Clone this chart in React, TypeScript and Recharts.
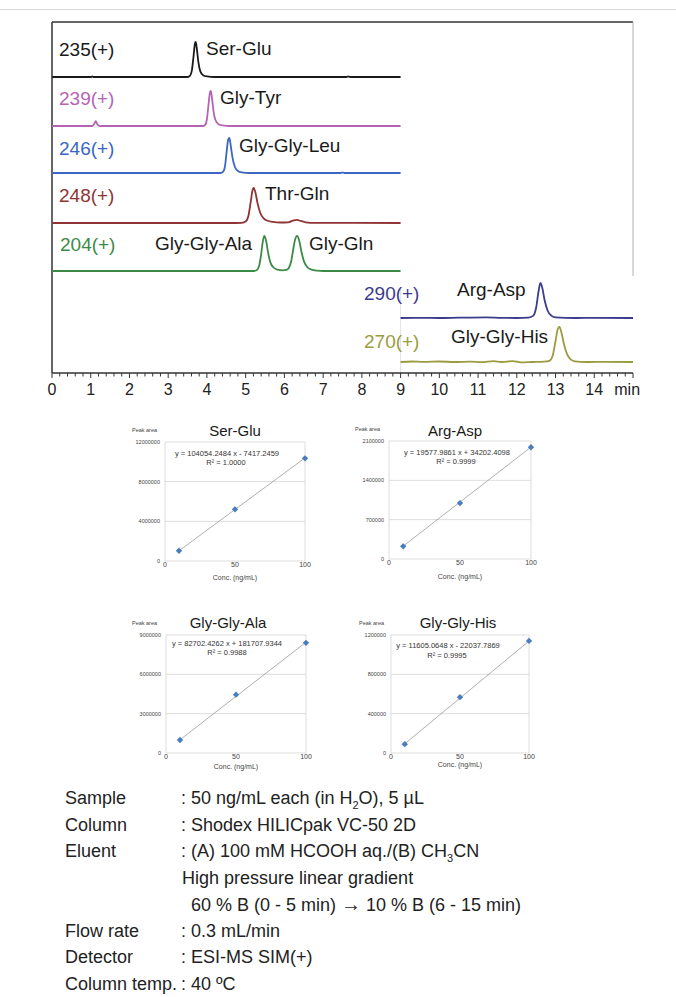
import React from "react";
import {
  LineChart,
  Line,
  XAxis,
  YAxis,
  ReferenceLine,
  ScatterChart,
  Scatter,
  CartesianGrid,
} from "recharts";

// SIM traces: [retention time (min), relative intensity (%)]
const serGlu = [[0, 0], [1.0, 0], [1.04, 2], [1.08, 0], [3.5, 0], [3.56, 3], [3.61, 18], [3.65, 55], [3.69, 95], [3.71, 100], [3.74, 80], [3.78, 42], [3.83, 16], [3.9, 5], [4.0, 1.5], [4.2, 0], [7.6, 0], [7.65, 1.5], [7.7, 0], [9, 0]];
const glyTyr = [[0, 0], [1.04, 0], [1.09, 6], [1.13, 14], [1.17, 5], [1.23, 0], [3.9, 0], [3.96, 4], [4.0, 20], [4.04, 60], [4.08, 97], [4.1, 100], [4.13, 80], [4.17, 42], [4.22, 17], [4.3, 5], [4.4, 1.5], [4.6, 0], [9, 0]];
const glyGlyLeu = [[0, 0], [4.35, 0], [4.42, 4], [4.47, 22], [4.51, 62], [4.55, 96], [4.58, 100], [4.61, 82], [4.66, 44], [4.72, 18], [4.8, 6], [4.9, 2], [5.1, 0], [7.45, 0], [7.5, 1.5], [7.55, 0], [9, 0]];
const thrGln = [[0, 0], [4.6, 0], [4.9, 0.5], [5.0, 4], [5.07, 20], [5.13, 60], [5.18, 95], [5.21, 100], [5.25, 88], [5.31, 55], [5.38, 28], [5.46, 14], [5.55, 7], [5.7, 3], [5.9, 1.5], [6.1, 2], [6.22, 7], [6.32, 9], [6.42, 6], [6.55, 2], [6.8, 0.5], [9, 0]];
const glyGlyAla = [[0, 0], [5.2, 0], [5.28, 2], [5.34, 12], [5.39, 40], [5.44, 82], [5.48, 100], [5.53, 85], [5.58, 52], [5.64, 24], [5.72, 10], [5.82, 4], [5.95, 2], [6.05, 3], [6.12, 10], [6.18, 30], [6.24, 70], [6.29, 95], [6.33, 100], [6.38, 88], [6.44, 55], [6.51, 26], [6.6, 10], [6.7, 4], [6.85, 1], [7.0, 0], [9, 0]];
const argAsp = [[9, 0], [9.5, 0.5], [10, 0], [10.5, 1], [11.2, 2], [11.6, 0.5], [12, 0], [12.3, 1], [12.42, 6], [12.5, 30], [12.56, 75], [12.61, 100], [12.66, 85], [12.72, 50], [12.8, 20], [12.9, 6], [13.0, 1.5], [13.5, 0], [14, 0.5], [15, 0]];
const glyGlyHis = [[9, 0], [9.3, 1.5], [9.6, 0.5], [10, 1.5], [10.4, 0], [10.8, 1], [11.1, -0.5], [11.4, 2.5], [11.6, 0], [11.9, 2.5], [12.1, -1], [12.4, 0], [12.7, 1], [12.85, 4], [12.93, 20], [13.0, 60], [13.06, 95], [13.1, 100], [13.15, 85], [13.22, 50], [13.3, 22], [13.4, 7], [13.5, 2], [13.8, 0], [14.3, 0.5], [15, 0]];

const traces = [serGlu, glyTyr, glyGlyLeu, thrGln, glyGlyAla, argAsp, glyGlyHis];
const traceMz = ["235(+)", "239(+)", "246(+)", "248(+)", "204(+)", "290(+)", "270(+)"];
const peakNames = ["Ser-Glu", "Gly-Tyr", "Gly-Gly-Leu", "Thr-Gln", "Gly-Gly-Ala", "Gly-Gln", "Arg-Asp", "Gly-Gly-His"];
const timeLabels = [0, 1, 2, 3, 4, 5, 6, 7, 8, 9, 10, 11, 12, 13, 14];

// calibration curves
const concLevels = [10, 50, 100];
const calNames = ["Ser-Glu", "Arg-Asp", "Gly-Gly-Ala", "Gly-Gly-His"];
const serGluArea = [1030000, 5210000, 10350000];
const argAspArea = [225000, 995000, 1988000];
const glyGlyAlaArea = [990000, 4450000, 8400000];
const glyGlyHisArea = [90000, 568000, 1140000];
const calSlopes = [104054.2484, 19577.9861, 82702.4262, 11605.0648];
const calIntercepts = [-7417.2459, 34202.4098, 181707.9344, -22037.7869];
const calR2 = ["1.0000", "0.9999", "0.9988", "0.9995"];
const calYTicks = [
  [0, 4000000, 8000000, 12000000],
  [0, 700000, 1400000, 2100000],
  [0, 3000000, 6000000, 9000000],
  [0, 400000, 800000, 1200000],
];

const FONT = '"Liberation Sans", Arial, Helvetica, sans-serif';
const TRACE_COLORS = ["#1a1a1a", "#b564b3", "#3b66c4", "#8e3434", "#3d8a47", "#3c3c8e", "#9c9b3e"];
const TRACE_BASE = [296, 247, 200, 150, 102, 55, 11];
const PEAK_SCALE = 0.35;

const TimeTick = (props: any) => {
  const { x, y, payload } = props;
  const v = payload.value;
  const major = Math.abs(v - Math.round(v)) < 1e-6;
  const r = Math.round(v);
  return (
    <g>
      <line x1={x} x2={x} y1={y} y2={y + (major ? 5 : 3.5)} stroke="#333" strokeWidth={1} />
      {major && timeLabels.includes(r) && (
        <text x={x} y={y + 22} textAnchor="middle" fontSize={16} fill="#222" fontFamily={FONT}>
          {r}
        </text>
      )}
      {major && r === 14 && (
        <text x={x + 20} y={y + 22} fontSize={16} fill="#222" fontFamily={FONT}>
          min
        </text>
      )}
    </g>
  );
};

const minorTicks = Array.from({ length: 76 }, (_, k) => k / 5);

function Chromatogram() {
  const labelPos = [
    [59, 56], [59, 105], [59, 155], [59, 202], [60, 251], [364, 300], [364, 348],
  ];
  const peakPos = [
    [206, 55], [220, 104], [239, 152], [265, 200], [155, 250], [309, 250], [457, 296], [451, 343],
  ];
  return (
    <div style={{ position: "absolute", left: 0, top: 0 }}>
      <LineChart width={676} height={400} margin={{ top: 22, right: 43, left: 52, bottom: 0 }}>
        <XAxis
          dataKey="t"
          type="number"
          domain={[0, 15]}
          ticks={minorTicks}
          interval={0}
          tickLine={false}
          tickSize={0}
          tickMargin={0}
          height={27}
          axisLine={{ stroke: "#333", strokeWidth: 1.5 }}
          tick={(p: any) => <TimeTick {...p} />}
        />
        <YAxis hide type="number" domain={[0, 351]} />
        <ReferenceLine x={0} stroke="#333" strokeWidth={1.5} />
        <ReferenceLine y={351} stroke="#333" strokeWidth={1.5} />
        <ReferenceLine segment={[{ x: 15, y: 97 }, { x: 15, y: 351 }]} stroke="#b0b0b0" strokeWidth={1} />
        <ReferenceLine segment={[{ x: 9, y: 0 }, { x: 9, y: 84 }]} stroke="#e2e2e2" strokeWidth={1} />
        {traces.map((tr, i) => (
          <Line
            key={traceMz[i]}
            data={tr.map(([t, v]) => ({ t, v: TRACE_BASE[i] + v * PEAK_SCALE }))}
            dataKey="v"
            type="monotone"
            dot={false}
            stroke={TRACE_COLORS[i]}
            strokeWidth={1.8}
            isAnimationActive={false}
          />
        ))}
      </LineChart>
      <svg width={676} height={400} style={{ position: "absolute", left: 0, top: 0, pointerEvents: "none" }}>
        {traceMz.map((m, i) => (
          <text key={m} x={labelPos[i][0]} y={labelPos[i][1]} fontSize={19} fill={TRACE_COLORS[i]} fontFamily={FONT}>
            {m}
          </text>
        ))}
        {peakNames.map((n, i) => (
          <text key={n} x={peakPos[i][0]} y={peakPos[i][1]} fontSize={19} fill="#1a1a1a" fontFamily={FONT}>
            {n}
          </text>
        ))}
      </svg>
    </div>
  );
}

const Diamond = (props: any) => {
  const { cx, cy } = props;
  const s = 3.2;
  return <path d={`M${cx},${cy - s}L${cx + s},${cy}L${cx},${cy + s}L${cx - s},${cy}Z`} fill="#4a7ebf" />;
};

function CalibChart({ idx, areas, plotLeft, plotTop, plotW, plotH, text }: any) {
  const ticks = calYTicks[idx];
  const yMax = ticks[ticks.length - 1];
  const a = calSlopes[idx];
  const b = calIntercepts[idx];
  const data = concLevels.map((c, i) => ({ x: c, y: areas[i] }));
  const eq = `y = ${a.toFixed(4)} x ${b < 0 ? "-" : "+"} ${Math.abs(b).toFixed(4)}`;
  const padL = 55;
  const padT = 15;
  const padR = 15;
  const axisH = 25;
  const W = plotW + padL + padR;
  const H = plotH + padT + axisH;
  const left = plotLeft - padL;
  const top = plotTop - padT;
  return (
    <div style={{ position: "absolute", left, top }}>
      <ScatterChart width={W} height={H} margin={{ top: padT, right: padR, left: 0, bottom: 0 }}>
        <CartesianGrid vertical={false} stroke="#d4d4d4" strokeWidth={0.8} />
        <XAxis
          dataKey="x"
          type="number"
          domain={[0, 100]}
          ticks={[0, 50, 100]}
          height={axisH}
          tickLine={false}
          tickSize={0}
          tickMargin={1}
          axisLine={false}
          tick={{ fontSize: 7, fill: "#444", fontFamily: FONT }}
        />
        <YAxis
          dataKey="y"
          type="number"
          domain={[0, yMax]}
          ticks={ticks}
          width={padL}
          tickLine={false}
          tickSize={0}
          tickMargin={5}
          axisLine={false}
          tick={{ fontSize: 5.5, fill: "#444", fontFamily: FONT }}
        />
        <ReferenceLine x={0} stroke="#d4d4d4" strokeWidth={0.8} />
        <ReferenceLine x={100} stroke="#d4d4d4" strokeWidth={0.8} />
        <ReferenceLine
          segment={[{ x: 10, y: a * 10 + b }, { x: 100, y: a * 100 + b }]}
          stroke="#8c8c8c"
          strokeWidth={0.7}
        />
        <Scatter data={data} shape={<Diamond />} isAnimationActive={false} />
      </ScatterChart>
      <svg width={W + 10} height={H + 30} style={{ position: "absolute", left: 0, top: 0, pointerEvents: "none", overflow: "visible" }}>
        <g fontFamily={FONT}>
          <text x={text.pa[0] - left} y={text.pa[1] - top} fontSize={5.5} fill="#444" dominantBaseline="middle">
            Peak area
          </text>
          <text x={text.title[0] - left} y={text.title[1] - top} fontSize={15} fill="#1a1a1a" textAnchor="middle" dominantBaseline="middle">
            {calNames[idx]}
          </text>
          <text x={text.eq[0] - left} y={text.eq[1] - top} fontSize={7.5} fill="#333" textAnchor="middle" dominantBaseline="middle">
            {eq}
          </text>
          <text x={text.r2[0] - left} y={text.r2[1] - top} fontSize={7.5} fill="#333" textAnchor="middle" dominantBaseline="middle">
            R² = {calR2[idx]}
          </text>
          <text x={text.conc[0] - left} y={text.conc[1] - top} fontSize={7} fill="#444" textAnchor="middle" dominantBaseline="middle">
            Conc. (ng/mL)
          </text>
        </g>
      </svg>
    </div>
  );
}

const infoLabels = ["Sample", "Column", "Eluent", "", "", "Flow rate", "Detector", "Column temp."];

export default function App() {
  const sub = { fontSize: 11, position: "relative" as const, top: 5 };
  const infoValues = [
    <>: 50 ng/mL each (in H<span style={sub}>2</span>O), 5 µL</>,
    <>: Shodex HILICpak VC-50 2D</>,
    <>: (A) 100 mM HCOOH aq./(B) CH<span style={sub}>3</span>CN</>,
    <span style={{ paddingLeft: 1 }}>High pressure linear gradient</span>,
    <span style={{ paddingLeft: 10 }}>60 % B (0 - 5 min) <span style={{ fontSize: 20 }}>→</span> 10 % B (6 - 15 min)</span>,
    <>: 0.3 mL/min</>,
    <>: ESI-MS SIM(+)</>,
    <>: 40 ºC</>,
  ];
  return (
    <div style={{ position: "absolute", left: 0, top: 0, width: 676, height: 997, background: "#fff", fontFamily: FONT }}>
      <div style={{ position: "absolute", left: 0, top: 9, width: 676, height: 1, background: "#d8d8d8" }} />
      <Chromatogram />
      <CalibChart
        idx={0}
        areas={serGluArea}
        plotLeft={165}
        plotTop={442}
        plotW={140}
        plotH={119}
        text={{ pa: [132, 431], title: [235, 432], eq: [227, 454], r2: [226, 463], conc: [235, 578] }}
      />
      <CalibChart
        idx={1}
        areas={argAspArea}
        plotLeft={389}
        plotTop={441}
        plotW={142}
        plotH={118}
        text={{ pa: [355, 430], title: [455, 432], eq: [457, 453], r2: [456, 462], conc: [460, 577] }}
      />
      <CalibChart
        idx={2}
        areas={glyGlyAlaArea}
        plotLeft={166}
        plotTop={635}
        plotW={140}
        plotH={118}
        text={{ pa: [132, 624], title: [228, 624], eq: [227, 644], r2: [227, 653], conc: [236, 767] }}
      />
      <CalibChart
        idx={3}
        areas={glyGlyHisArea}
        plotLeft={391}
        plotTop={635}
        plotW={138}
        plotH={118}
        text={{ pa: [359, 624], title: [458, 624], eq: [448, 646], r2: [447, 656], conc: [460, 765] }}
      />
      <div style={{ position: "absolute", left: 65, top: 785, fontSize: 18, lineHeight: "26.5px", color: "#222" }}>
        {infoLabels.map((l, i) => (
          <div key={i} style={{ height: 26.5 }}>{l || "\u00a0"}</div>
        ))}
      </div>
      <div style={{ position: "absolute", left: 181, top: 785, fontSize: 18, lineHeight: "26.5px", color: "#222", whiteSpace: "nowrap" }}>
        {infoValues.map((v, i) => (
          <div key={i} style={{ height: 26.5 }}>{v}</div>
        ))}
      </div>
    </div>
  );
}
